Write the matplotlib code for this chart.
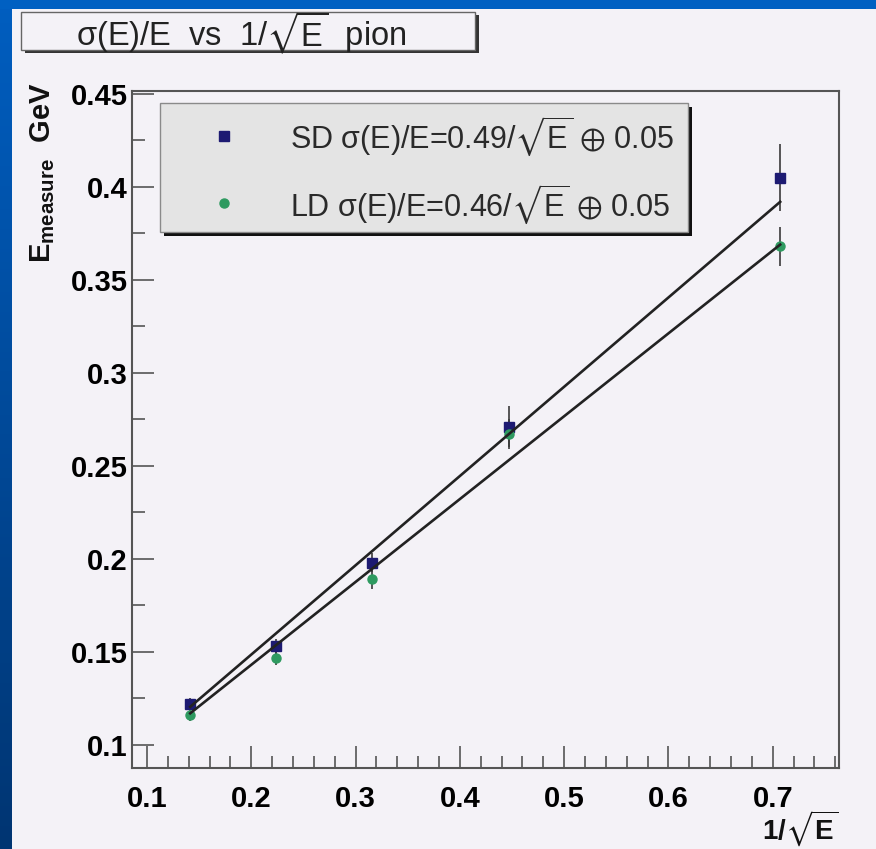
import numpy as np
import matplotlib
matplotlib.use("Agg")
import matplotlib.pyplot as plt
from matplotlib.patches import Rectangle
from matplotlib.lines import Line2D
from matplotlib.ticker import MultipleLocator
from matplotlib.colors import LinearSegmentedColormap

plt.rcParams['font.family'] = ['Liberation Sans', 'DejaVu Sans']
plt.rcParams['mathtext.fontset'] = 'custom'
plt.rcParams['mathtext.rm'] = 'Liberation Sans'
plt.rcParams['mathtext.it'] = 'Liberation Sans:italic'
plt.rcParams['mathtext.bf'] = 'Liberation Sans:bold'
plt.rcParams['mathtext.sf'] = 'Liberation Sans'
plt.rcParams['mathtext.fallback'] = 'stixsans'

# ---------------- data ----------------
inv_sqrt_e = [0.1414, 0.2236, 0.3162, 0.4472, 0.7071]
sd_meas = [0.122, 0.153, 0.198, 0.271, 0.405]
sd_err = [0.003, 0.004, 0.005, 0.011, 0.018]
ld_meas = [0.116, 0.147, 0.189, 0.267, 0.368]
ld_err = [0.003, 0.004, 0.005, 0.008, 0.0105]
sd_fit = (0.0526, 0.480)   # intercept, slope
ld_fit = (0.054, 0.4455)

xtick_vals = [0.1, 0.2, 0.3, 0.4, 0.5, 0.6, 0.7]
xtick_labels = ['0.1', '0.2', '0.3', '0.4', '0.5', '0.6', '0.7']
ytick_vals = [0.1, 0.15, 0.2, 0.25, 0.3, 0.35, 0.4, 0.45]
ytick_labels = ['0.1', '0.15', '0.2', '0.25', '0.3', '0.35', '0.4', '0.45']

title_text = r'σ(E)/E  vs  1/$\sqrt{\mathrm{E}}$  pion'
sd_label = r'SD σ(E)/E=0.49/$\sqrt{\mathrm{E}}$ $\oplus$ 0.05'
ld_label = r'LD σ(E)/E=0.46/$\sqrt{\mathrm{E}}$ $\oplus$ 0.05'
ylabel_text = r'$\mathbf{E_{measure}}$  GeV'
xlabel_text = r'1/$\sqrt{\mathbf{E}}$'

# ---------------- style ----------------
W, H = 876, 849
bg = '#f4f2f7'
sd_color = '#1d1a72'
ld_color = '#2e9a60'
frame_col = '#555555'


def fx(px):
    return px / W


def fy(py):
    return 1 - py / H


fig = plt.figure(figsize=(W / 100, H / 100), dpi=100, facecolor=bg)

# blue slide border (left gradient strip + top strip)
bax = fig.add_axes([0, 0, fx(12), 1])
grad = np.linspace(0, 1, 256).reshape(-1, 1)
cm = LinearSegmentedColormap.from_list('b', ['#005ec0', '#003572'])
bax.imshow(grad, aspect='auto', cmap=cm, extent=[0, 1, 0, 1], origin='upper')
bax.set_axis_off()
fig.add_artist(Rectangle((0, fy(9)), 1, 9 / H, transform=fig.transFigure,
                         facecolor='#0060c2', edgecolor='none', zorder=5))

# main axes
ax = fig.add_axes([fx(132), fy(768), (839 - 132) / W, (768 - 91) / H])
ax.set_facecolor(bg)
ax.set_xlim(0.0856, 0.7635)
ax.set_ylim(0.0876, 0.4516)

x = np.array(inv_sqrt_e)
ax.errorbar(x, sd_meas, yerr=sd_err, fmt='none', ecolor='#3a3a3a', elinewidth=1.2, zorder=2)
ax.errorbar(x, ld_meas, yerr=ld_err, fmt='none', ecolor='#3a3a3a', elinewidth=1.2, zorder=2)
ax.plot(x, sd_meas, 's', color=sd_color, ms=7, mec=sd_color, zorder=3)
ax.plot(x, ld_meas, 'o', color=ld_color, ms=6.5, mec=ld_color, zorder=3)

xs = np.array([x[0], x[-1]])
ax.plot(xs, sd_fit[0] + sd_fit[1] * xs, color='#222222', lw=1.9, zorder=4)
ax.plot(xs, ld_fit[0] + ld_fit[1] * xs, color='#222222', lw=1.9, zorder=4)

ax.set_xticks(xtick_vals)
ax.set_xticklabels(xtick_labels, fontweight='bold', fontsize=21)
ax.set_yticks(ytick_vals)
ax.set_yticklabels(ytick_labels, fontweight='bold', fontsize=21)
ax.xaxis.set_minor_locator(MultipleLocator(0.02))
ax.yaxis.set_minor_locator(MultipleLocator(0.025))
ax.tick_params(axis='both', which='both', direction='in', color=frame_col,
               top=False, right=False, width=1.2)
ax.tick_params(axis='both', which='major', length=16)
ax.tick_params(axis='both', which='minor', length=9)
ax.tick_params(axis='x', which='major', pad=12)
ax.tick_params(axis='y', which='major', pad=3)
for sp in ax.spines.values():
    sp.set_color(frame_col)
    sp.set_linewidth(1.5)

# axis labels
fig.text(fx(43), fy(82), ylabel_text, rotation=90, ha='center', va='top',
         fontsize=21, fontweight='bold', color='#111111')
fig.text(fx(838), fy(840), xlabel_text, ha='right', va='baseline',
         fontsize=20, fontweight='bold', color='#111111')

# title box
fig.add_artist(Rectangle((fx(25), fy(53)), (476 - 22) / W, (50 - 12) / H,
                         transform=fig.transFigure, facecolor='#333333',
                         edgecolor='none', zorder=6))
fig.add_artist(Rectangle((fx(21), fy(50)), (476 - 22) / W, (50 - 12) / H,
                         transform=fig.transFigure, facecolor=bg,
                         edgecolor='#666666', lw=1.0, zorder=7))
fig.text(fx(241), fy(46), title_text, ha='center', va='baseline',
         fontsize=23.5, color='#222222', zorder=8)

# legend box
fig.add_artist(Rectangle((fx(164), fy(236)), (688 - 160) / W, (232 - 103) / H,
                         transform=fig.transFigure, facecolor='#111111',
                         edgecolor='none', zorder=6))
fig.add_artist(Rectangle((fx(160), fy(232)), (688 - 160) / W, (232 - 103) / H,
                         transform=fig.transFigure, facecolor='#e4e4e4',
                         edgecolor='#8a8a8a', lw=1.0, zorder=7))
fig.add_artist(Line2D([fx(224)], [fy(136)], marker='s', ms=7, color=sd_color,
                      transform=fig.transFigure, zorder=8))
fig.add_artist(Line2D([fx(224)], [fy(203)], marker='o', ms=6.5, color=ld_color,
                      transform=fig.transFigure, zorder=8))
fig.text(fx(290), fy(148), sd_label, ha='left', va='baseline', fontsize=22,
         color='#2a2a2a', zorder=9)
fig.text(fx(290), fy(216), ld_label, ha='left', va='baseline', fontsize=22,
         color='#2a2a2a', zorder=9)

fig.savefig('out.png', dpi=100, facecolor=bg)
